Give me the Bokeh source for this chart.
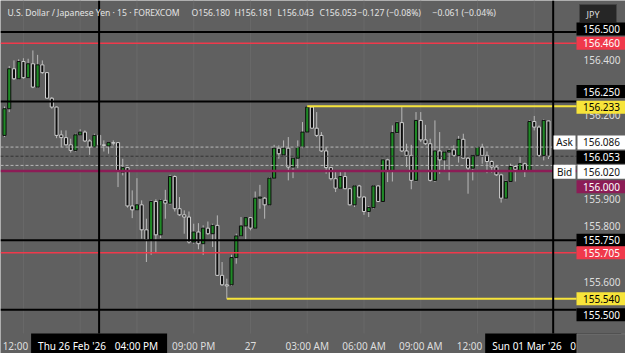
from bokeh.plotting import figure
from bokeh.models import Range1d, ColumnDataSource
from bokeh.embed import file_html
from bokeh.resources import INLINE
from bokeh.core.properties import value

# ---------------- data (USD/JPY, 15-minute bars, FOREXCOM) ----------------
opens = [156.128, 156.224, 156.368, 156.332, 156.394, 156.336, 156.386, 156.302, 156.382, 156.354,
         156.262, 156.230, 156.130, 156.120, 156.094, 156.074, 156.130, 156.140, 156.108, 156.086,
         156.128, 156.094, 156.090, 156.102, 156.102, 155.996, 156.012, 155.874, 155.860, 155.878,
         155.788, 155.752, 155.890, 155.770, 155.894, 155.884, 155.980, 155.864, 155.842, 155.834,
         155.744, 155.780, 155.738, 155.794, 155.774, 155.804, 155.624, 155.590, 155.590, 155.688,
         155.766, 155.802, 155.832, 155.794, 155.902, 155.902, 155.878, 155.974, 156.082, 156.058,
         156.082, 156.014, 156.046, 156.086, 156.140, 156.230, 156.154, 156.128, 156.072, 156.012,
         155.972, 155.938, 155.980, 155.936, 155.878, 155.946, 155.906, 155.854, 155.868, 155.946,
         155.890, 156.040, 155.998, 156.138, 156.174, 156.072, 156.056, 155.966, 156.182, 156.112,
         156.098, 155.966, 156.072, 156.040, 156.068, 156.076, 156.056, 156.114, 156.046, 156.010,
         156.056, 156.086, 156.056, 156.034, 156.014, 155.986, 155.902, 155.962, 156.016, 156.002,
         156.026, 155.998, 156.178, 156.158, 156.056, 156.180]
highs = [156.232, 156.378, 156.398, 156.402, 156.406, 156.404, 156.434, 156.418, 156.398, 156.356,
         156.266, 156.232, 156.146, 156.146, 156.116, 156.134, 156.150, 156.146, 156.114, 156.134,
         156.182, 156.110, 156.104, 156.110, 156.104, 156.044, 156.014, 155.930, 155.974, 155.894,
         155.828, 155.894, 155.898, 155.898, 155.932, 155.986, 155.984, 155.906, 155.858, 155.854,
         155.810, 155.812, 155.804, 155.818, 155.810, 155.840, 155.672, 155.612, 155.698, 155.774,
         155.834, 155.834, 155.834, 155.926, 155.950, 155.906, 155.978, 156.094, 156.092, 156.110,
         156.122, 156.050, 156.110, 156.176, 156.233, 156.233, 156.212, 156.140, 156.086, 156.014,
         155.996, 156.002, 156.002, 155.938, 155.948, 155.950, 155.910, 155.874, 155.948, 155.948,
         156.044, 156.044, 156.164, 156.178, 156.230, 156.098, 156.094, 156.212, 156.212, 156.166,
         156.116, 156.182, 156.140, 156.070, 156.080, 156.092, 156.126, 156.134, 156.050, 156.058,
         156.086, 156.098, 156.070, 156.038, 156.018, 155.990, 155.966, 156.026, 156.020, 156.050,
         156.030, 156.182, 156.198, 156.164, 156.186, 156.181]
lows = [156.122, 156.212, 156.328, 156.330, 156.332, 156.334, 156.298, 156.300, 156.350, 156.260,
        156.224, 156.118, 156.086, 156.092, 156.066, 156.070, 156.128, 156.104, 156.058, 156.084,
        156.092, 156.070, 156.062, 156.092, 155.942, 155.984, 155.868, 155.830, 155.858, 155.756,
        155.672, 155.698, 155.708, 155.758, 155.828, 155.878, 155.854, 155.838, 155.774, 155.738,
        155.738, 155.718, 155.698, 155.770, 155.726, 155.622, 155.586, 155.540, 155.586, 155.666,
        155.762, 155.754, 155.786, 155.792, 155.864, 155.828, 155.876, 155.972, 156.044, 156.056,
        155.966, 155.974, 156.010, 156.082, 156.138, 156.152, 156.122, 156.068, 155.990, 155.966,
        155.924, 155.936, 155.934, 155.876, 155.870, 155.902, 155.842, 155.834, 155.864, 155.888,
        155.888, 155.960, 155.962, 156.134, 156.068, 156.014, 155.934, 155.962, 156.104, 156.094,
        155.962, 155.960, 155.990, 155.996, 155.966, 156.050, 156.030, 156.044, 155.918, 155.966,
        156.050, 156.026, 155.992, 155.994, 155.982, 155.886, 155.898, 155.960, 155.962, 155.998,
        155.978, 155.996, 156.146, 156.050, 156.038, 156.043]
closes = [156.224, 156.368, 156.332, 156.394, 156.336, 156.386, 156.302, 156.382, 156.354, 156.262,
          156.230, 156.128, 156.120, 156.094, 156.074, 156.130, 156.140, 156.108, 156.086, 156.128,
          156.094, 156.092, 156.102, 156.100, 155.998, 156.012, 155.874, 155.860, 155.878, 155.788,
          155.752, 155.890, 155.770, 155.894, 155.884, 155.980, 155.864, 155.842, 155.834, 155.744,
          155.780, 155.738, 155.794, 155.774, 155.804, 155.624, 155.590, 155.586, 155.688, 155.766,
          155.802, 155.832, 155.794, 155.902, 155.906, 155.878, 155.974, 156.082, 156.062, 156.082,
          156.014, 156.046, 156.086, 156.140, 156.230, 156.154, 156.128, 156.072, 156.012, 155.972,
          155.938, 155.980, 155.936, 155.878, 155.946, 155.906, 155.854, 155.868, 155.946, 155.890,
          156.040, 155.998, 156.138, 156.174, 156.072, 156.056, 155.966, 156.182, 156.112, 156.098,
          155.966, 156.072, 156.040, 156.068, 156.074, 156.056, 156.114, 156.046, 156.010, 156.056,
          156.086, 156.056, 156.034, 156.014, 155.986, 155.902, 155.962, 156.016, 156.006, 156.026,
          155.998, 156.178, 156.158, 156.056, 156.182, 156.053]
bar_index = list(range(1, len(opens) + 1))

# drawn levels
black_levels = [156.500, 156.250, 155.750, 155.500]
red_levels = [156.460, 155.705]
purple_level = 156.000
yellow_levels = [156.233, 155.540]
yellow_start_bar = [65, 48]
ask_price, last_price, bid_price = 156.086, 156.053, 156.020
plain_ticks = [156.400, 156.200, 155.900, 155.800, 155.600]

# time axis (bar index of tick, label)
grid_bars = [5, 17, 29, 41, 53, 65, 77, 89, 101, 113]
time_tick_bars = [5, 41, 53, 65, 77, 89, 101]
time_tick_labels = ["12:00", "09:00 PM", "27", "03:00 AM", "06:00 AM", "09:00 AM", "12:00"]
cross_bars = [21, 117]
cross_dates = ["Thu 26 Feb '26", "Sun 01 Mar '26"]
cross_times = ["04:00 PM", "0"]

header_parts = ["U.S. Dollar / Japanese Yen \u00b7 15 \u00b7 FOREXCOM", "O156.180", "H156.181", "L156.043",
                "C156.053", "\u22120.127 (\u22120.08%)", "\u22120.061 (\u22120.04%)"]

# ---------------- layout ----------------
W, H = 625, 353
X0, X1 = 0.154, 132.29
Y0, Y1 = 155.3426, 156.6138
PXP = H / (Y1 - Y0)


def dx(px):
    return X0 + px * (X1 - X0) / W


def dy(py):
    return Y1 - py * (Y1 - Y0) / H


BG = "#606060"
GRID = "#696969"
RED = "#f0394b"
YELLOW = "#f7e43a"
PURPLE = "#8c1c56"
GREEN = "#1f8a26"
DARK = "#0e0e0e"
FONT = value("Noto Sans")
TXT = "#dedede"

p = figure(width=W, height=H, x_range=Range1d(X0, X1), y_range=Range1d(Y0, Y1),
           output_backend="svg", toolbar_location=None, min_border=0,
           x_axis_location=None, y_axis_location=None,
           background_fill_color=BG, border_fill_color=BG, outline_line_color=None)
p.grid.visible = False

pane_bottom = dy(333)
pane_right = dx(576)

# vertical grid
p.segment(x0=grid_bars, x1=grid_bars, y0=[Y1] * len(grid_bars), y1=[pane_bottom] * len(grid_bars),
          line_color=GRID, line_width=1)

# candles
src = ColumnDataSource(dict(
    x=bar_index, o=opens, h=highs, l=lows, c=closes,
    top=[max(o, c) for o, c in zip(opens, closes)],
    bot=[min(o, c) for o, c in zip(opens, closes)],
    fill=[GREEN if c >= o else DARK for o, c in zip(opens, closes)],
    edge=[DARK if c >= o else "#cfcfcf" for o, c in zip(opens, closes)],
))
p.segment(x0="x", x1="x", y0="h", y1="l", source=src, line_color="#b8b8b8", line_width=1)
p.vbar(x="x", width=0.66, top="top", bottom="bot", source=src,
       fill_color="fill", line_color="edge", line_width=1)

# horizontal levels
n = len(black_levels)
p.segment(x0=[X0] * n, x1=[pane_right] * n, y0=black_levels, y1=black_levels, line_color="#000000", line_width=2)
p.segment(x0=[X0] * 2, x1=[pane_right] * 2, y0=red_levels, y1=red_levels, line_color=RED, line_width=1.5)
p.segment(x0=[X0], x1=[pane_right], y0=[purple_level], y1=[purple_level], line_color=PURPLE, line_width=2.5)
p.segment(x0=yellow_start_bar, x1=[pane_right] * 2, y0=yellow_levels, y1=yellow_levels,
          line_color=YELLOW, line_width=2)
p.segment(x0=[X0] * 2, x1=[pane_right] * 2, y0=[ask_price, bid_price], y1=[ask_price, bid_price],
          line_color="#b8b8b8", line_width=1, line_dash="3 2")
p.segment(x0=[X0], x1=[pane_right], y0=[last_price], y1=[last_price],
          line_color="#333333", line_width=1, line_dash="3 2")

# crosshair verticals
p.segment(x0=cross_bars, x1=cross_bars, y0=[Y1] * 2, y1=[pane_bottom] * 2, line_color="#000000", line_width=2)

# header
hx = [7, 191, 234, 277, 319, 357, 432]
for part, px in zip(header_parts, hx):
    p.text(x=[dx(px)], y=[dy(12.5)], text=[part], text_font=FONT, text_font_size="8.6px",
           text_color="#e4e4e4", text_align="left", text_baseline="middle")

# JPY button
p.rect(x=[dx(597.5)], y=[dy(13)], width=37, height=18, width_units="screen", height_units="screen",
       fill_color="#262626", line_color="#454545", line_width=1)
p.text(x=[dx(586)], y=[dy(13.5)], text=["JPY"], text_font=FONT, text_font_size="9px",
       text_color="#dddddd", text_align="left", text_baseline="middle")

# price scale: plain ticks
p.text(x=[dx(601.5)] * len(plain_ticks), y=plain_ticks, text=["%.3f" % v for v in plain_ticks],
       text_font=FONT, text_font_size="10px", text_color=TXT, text_align="center", text_baseline="middle")

# price scale: coloured boxes (price, fill, text colour, pixel shift)
boxes = [
    (black_levels[0], "#000000", "#ffffff", -3),
    (red_levels[0], RED, "#ffffff", 0),
    (black_levels[1], "#000000", "#ffffff", -10),
    (yellow_levels[0], YELLOW, "#000000", 1),
    (purple_level, PURPLE, "#ffffff", 15.7),
    (black_levels[2], "#000000", "#ffffff", 0),
    (red_levels[1], RED, "#ffffff", 0),
    (yellow_levels[1], YELLOW, "#000000", 0),
    (black_levels[3], "#000000", "#ffffff", 5),
]
for price, fill, tcol, shift in boxes:
    yy = price - shift / PXP
    p.rect(x=[dx(600.5)], y=[yy], width=49, height=13, width_units="screen", height_units="screen",
           fill_color=fill, line_color=None)
    p.text(x=[dx(601)], y=[yy], text=["%.3f" % price], text_font=FONT, text_font_size="10px",
           text_color=tcol, text_align="center", text_baseline="middle")

# Ask / Bid rows
for price, tag, shift in [(ask_price, "Ask", -4.6), (bid_price, "Bid", 6.4)]:
    yy = price - shift / PXP
    p.rect(x=[dx(564)], y=[yy], width=22, height=14, width_units="screen", height_units="screen",
           fill_color="#ffffff", line_color=None)
    p.text(x=[dx(564)], y=[yy], text=[tag], text_font=FONT, text_font_size="10px",
           text_color="#111111", text_align="center", text_baseline="middle")
    p.rect(x=[dx(601)], y=[yy], width=48, height=14, width_units="screen", height_units="screen",
           fill_color="#ffffff", line_color=None)
    p.text(x=[dx(601)], y=[yy], text=["%.3f" % price], text_font=FONT, text_font_size="10px",
           text_color="#111111", text_align="center", text_baseline="middle")
# last-price box above the Ask/Bid rows
yy = last_price - 1 / PXP
p.rect(x=[dx(600.5)], y=[yy], width=49, height=13, width_units="screen", height_units="screen",
       fill_color="#000000", line_color=None)
p.text(x=[dx(601)], y=[yy], text=["%.3f" % last_price], text_font=FONT, text_font_size="10px",
       text_color="#ffffff", text_align="center", text_baseline="middle")

# time axis labels
shifts = [-8, 0, 0, 0, 0, 0, -8]
for b, lab, s in zip(time_tick_bars, time_tick_labels, shifts):
    p.text(x=[b], y=[dy(345)], text=[lab], x_offset=s, text_font=FONT, text_font_size="10px",
           text_color=TXT, text_align="center", text_baseline="middle")

# crosshair time labels
for b, d, t in zip(cross_bars, cross_dates, cross_times):
    p.rect(x=[b], y=[dy(343)], width=136, height=20, width_units="screen", height_units="screen",
           fill_color="#000000", line_color=None)
    p.text(x=[b], y=[dy(345)], text=[d], x_offset=-61, text_font=FONT, text_font_size="10px",
           text_color="#ffffff", text_align="left", text_baseline="middle")
    if t == "0":
        p.text(x=[b], y=[dy(345)], text=[t], x_offset=17, text_font=FONT, text_font_size="10px",
               text_color="#ffffff", text_align="left", text_baseline="middle")
    else:
        p.text(x=[b], y=[dy(345)], text=[t], x_offset=59, text_font=FONT, text_font_size="10px",
               text_color="#ffffff", text_align="right", text_baseline="middle")

# bottom-right corner
p.rect(x=[dx(601)], y=[dy(343.5)], width=49, height=20, width_units="screen", height_units="screen",
       fill_color=BG, line_color="#737373", line_width=1)

open("out.html", "w").write(file_html(p, INLINE))
